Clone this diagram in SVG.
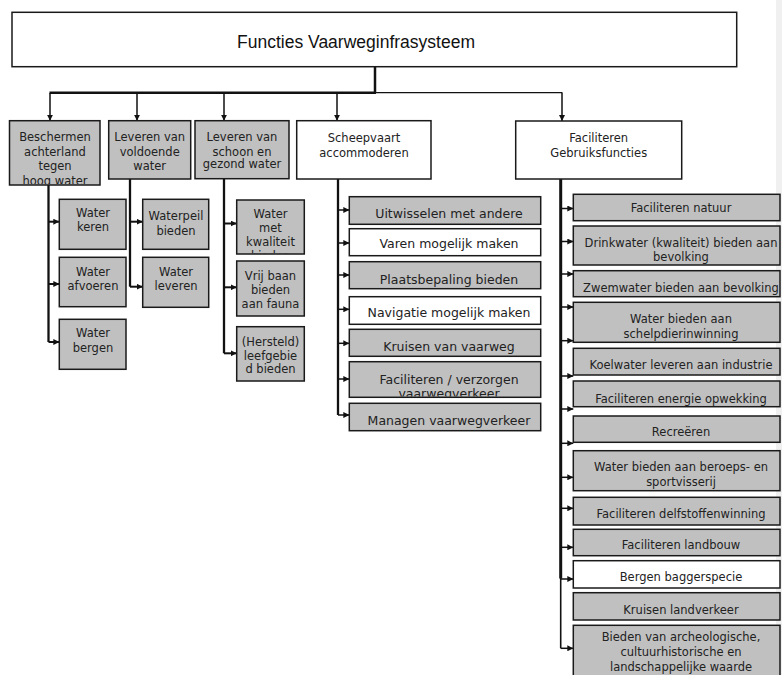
<svg xmlns="http://www.w3.org/2000/svg" width="782" height="675" viewBox="0 0 782 675">
<style>
.g{fill:#c0c0c0;stroke:#1a1a1a;stroke-width:1.5}
.w{fill:#ffffff;stroke:#1a1a1a;stroke-width:1.5}
.t{font-family:"DejaVu Sans",Verdana,sans-serif;font-size:11.5px;fill:#222;text-anchor:middle}
.t2{font-family:"DejaVu Sans",Verdana,sans-serif;font-size:12.5px;fill:#222;text-anchor:middle}
.title{font-family:"Liberation Sans",Arial,sans-serif;font-size:17.5px;fill:#111;text-anchor:middle}
.c{fill:none;stroke:#111;stroke-width:2;marker-end:url(#ah)}
.c1{fill:none;stroke:#111;stroke-width:1.5;marker-end:url(#ah)}
.tr{fill:none;stroke:#111;stroke-width:2.3}
</style>
<defs>
<marker id="ah" markerUnits="userSpaceOnUse" markerWidth="6" markerHeight="6" refX="6" refY="3" orient="auto">
<path d="M0,0 L6,3 L0,6 z" fill="#111"/>
</marker>
<clipPath id="cpB"><rect x="10" y="121" width="89" height="63"/></clipPath>
<clipPath id="cpK"><rect x="237" y="200" width="67" height="53.2"/></clipPath>
<clipPath id="cpF"><rect x="350" y="362" width="190" height="34.6"/></clipPath>
</defs>
<rect x="776" y="0" width="6" height="675" fill="#f0f0f0"/>

<g id="connectors">
<path class="tr" d="M375,66.7 V92.7" style="stroke-width:2.5"/>
<path d="M49.5,92.7 H376" fill="none" stroke="#111" stroke-width="2.5"/>
<path d="M375,92.7 H562.5" fill="none" stroke="#111" stroke-width="1.3"/>
<path class="c1" d="M50,93 V120.7"/>
<path class="c1" d="M137,93 V120.7"/>
<path class="c1" d="M224,93 V120.7"/>
<path class="c1" d="M337,93 V120.7"/>
<path class="c1" d="M562,93 V121"/>

<path class="tr" d="M48.5,185 V342"/>
<path class="c" d="M48.5,221.7 H59.3"/>
<path class="c" d="M48.5,284 H59.3"/>
<path class="c" d="M48.5,342 H59.3"/>

<path class="tr" d="M130,179 V286.7"/>
<path class="c" d="M130,221.7 H142.7"/>
<path class="c" d="M130,286.7 H142.7"/>

<path class="tr" d="M224,179 V353.3"/>
<path class="c" d="M224,223.5 H236.7"/>
<path class="c" d="M224,287.3 H236.7"/>
<path class="c" d="M224,353.3 H236.7"/>

<path class="tr" d="M338,179 V415"/>
<path class="c1" d="M338,210 H349.3"/>
<path class="c1" d="M338,243 H349.3"/>
<path class="c1" d="M338,275 H349.3"/>
<path class="c1" d="M338,309.3 H349.3"/>
<path class="c1" d="M338,343.3 H349.3"/>
<path class="c1" d="M338,379 H349.3"/>
<path class="c1" d="M338,415 H349.3"/>

<path d="M560.7,179 V578.5" fill="none" stroke="#111" stroke-width="3"/>
<path d="M560.7,578 V648.3" fill="none" stroke="#111" stroke-width="1.6"/>
<path class="c1" d="M560.7,208.5 H573.3"/>
<path class="c1" d="M560.7,241.5 H573.3"/>
<path class="c1" d="M560.7,274 H573.3"/>
<path class="c1" d="M560.7,307 H573.3"/>
<path class="c1" d="M560.7,340.7 H573.3"/>
<path class="c1" d="M560.7,376 H573.3"/>
<path class="c1" d="M560.7,409 H573.3"/>
<path class="c1" d="M560.7,443.3 H573.3"/>
<path class="c1" d="M560.7,477.3 H573.3"/>
<path class="c1" d="M560.7,508.3 H573.3"/>
<path class="c1" d="M560.7,547.3 H573.3"/>
<path class="c1" d="M560.7,579 H573.3"/>
<path class="c1" d="M560.7,648.3 H573.3"/>
</g>

<g id="root"><rect class="w" x="12" y="12.3" width="724.7" height="54.4"/><text class="title" x="356" y="48">Functies Vaarweginfrasysteem</text></g>

<g id="beschermen"><rect class="g" x="9.5" y="120.7" width="90.5" height="64.3"/>
<g clip-path="url(#cpB)"><text class="t" x="55" y="141">Beschermen</text><text class="t" x="55" y="155.7">achterland</text><text class="t" x="55" y="169.7">tegen</text><text class="t" x="55" y="184.7">hoog water</text></g></g>
<g id="voldoende"><rect class="g" x="108.7" y="120.7" width="82" height="58.3"/>
<text class="t" x="149.7" y="141.3">Leveren van</text><text class="t" x="149.7" y="155.7">voldoende</text><text class="t" x="149.7" y="170">water</text></g>
<g id="schoon"><rect class="g" x="195" y="120.7" width="94" height="58"/>
<text class="t" x="242" y="141">Leveren van</text><text class="t" x="242" y="155.7">schoon en</text><text class="t" x="242" y="168.3">gezond water</text></g>
<g id="scheepvaart"><rect class="w" x="296.7" y="120.7" width="134.3" height="58.3"/>
<text class="t" x="364" y="141.7">Scheepvaart</text><text class="t" x="364" y="156.7">accommoderen</text></g>
<g id="gebruiksfuncties"><rect class="w" x="515.7" y="121" width="166" height="58"/>
<text class="t" x="598.7" y="141.7">Faciliteren</text><text class="t" x="598.7" y="157.3">Gebruiksfuncties</text></g>

<g id="water-keren"><rect class="g" x="59.3" y="199.3" width="66.7" height="50"/><text class="t" x="93" y="217.3">Water</text><text class="t" x="93" y="231.3">keren</text></g>
<g id="water-afvoeren"><rect class="g" x="59.3" y="257.3" width="66.7" height="49.4"/><text class="t" x="93" y="276.3">Water</text><text class="t" x="93" y="289.7">afvoeren</text></g>
<g id="water-bergen"><rect class="g" x="59.3" y="319.3" width="66.7" height="50"/><text class="t" x="93" y="337.3">Water</text><text class="t" x="93" y="351.7">bergen</text></g>

<g id="waterpeil"><rect class="g" x="142.7" y="199.3" width="66" height="50"/><text class="t" x="176" y="220">Waterpeil</text><text class="t" x="176" y="234.7">bieden</text></g>
<g id="water-leveren"><rect class="g" x="142.7" y="257.3" width="66" height="50"/><text class="t" x="176" y="276.3">Water</text><text class="t" x="176" y="289.7">leveren</text></g>

<g id="kwaliteit"><rect class="g" x="236.7" y="200" width="67.6" height="54"/>
<g clip-path="url(#cpK)"><text class="t" x="270.5" y="218">Water</text><text class="t" x="270.5" y="231.7">met</text><text class="t" x="270.5" y="246">kwaliteit</text><text class="t" x="270.5" y="260">bieden</text></g></g>
<g id="fauna"><rect class="g" x="236.7" y="261" width="67.6" height="55"/><text class="t" x="270.5" y="279.7">Vrij baan</text><text class="t" x="270.5" y="294">bieden</text><text class="t" x="270.5" y="308.3">aan fauna</text></g>
<g id="leefgebied"><rect class="g" x="236.7" y="326.7" width="67.6" height="54.3"/><text class="t" x="270.5" y="346.3">(Hersteld)</text><text class="t" x="270.5" y="359.7">leefgebie</text><text class="t" x="270.5" y="373.3">d bieden</text></g>

<g id="uitwisselen"><rect class="g" x="349.3" y="196.7" width="191.4" height="27.6"/><text class="t2" x="449" y="217.5">Uitwisselen met andere</text></g>
<g id="varen"><rect class="w" x="349.3" y="228.7" width="191.4" height="27"/><text class="t2" x="449" y="247.8">Varen mogelijk maken</text></g>
<g id="plaatsbepaling"><rect class="g" x="349.3" y="261.7" width="191.4" height="27"/><text class="t2" x="449" y="283.5">Plaatsbepaling bieden</text></g>
<g id="navigatie"><rect class="w" x="349.3" y="296.7" width="191.4" height="27.6"/><text class="t2" x="449" y="316.8">Navigatie mogelijk maken</text></g>
<g id="kruisen-vaarweg"><rect class="g" x="349.3" y="329.3" width="191.4" height="27"/><text class="t2" x="449" y="350.5">Kruisen van vaarweg</text></g>
<g id="verzorgen"><rect class="g" x="349.3" y="361.7" width="191.4" height="35.6"/>
<g clip-path="url(#cpF)"><text class="t2" x="449" y="383.5">Faciliteren / verzorgen</text><text class="t2" x="449" y="397.8">vaarwegverkeer</text></g></g>
<g id="managen"><rect class="g" x="349.3" y="403.3" width="191.4" height="27.4"/><text class="t2" x="449" y="425.2">Managen vaarwegverkeer</text></g>

<g id="natuur"><rect class="g" x="573.3" y="194.3" width="206.7" height="26.4"/><text class="t" x="681" y="212.3">Faciliteren natuur</text></g>
<g id="drinkwater"><rect class="g" x="573.3" y="226" width="206.7" height="39"/><text class="t" x="681" y="246.7">Drinkwater (kwaliteit) bieden aan</text><text class="t" x="681" y="260.7">bevolking</text></g>
<g id="zwemwater"><rect class="g" x="573.3" y="270.7" width="206.7" height="26"/><text class="t" x="681" y="291.7">Zwemwater bieden aan bevolking</text></g>
<g id="schelpdier"><rect class="g" x="573.3" y="302.3" width="206.7" height="40"/><text class="t" x="681" y="323">Water bieden aan</text><text class="t" x="681" y="338.3">schelpdierinwinning</text></g>
<g id="koelwater"><rect class="g" x="573.3" y="348.3" width="206.7" height="26.7"/><text class="t" x="681" y="369">Koelwater leveren aan industrie</text></g>
<g id="energie"><rect class="g" x="573.3" y="381" width="206.7" height="25.7"/><text class="t" x="681" y="403.3">Faciliteren energie opwekking</text></g>
<g id="recreeren"><rect class="g" x="573.3" y="416" width="206.7" height="26.3"/><text class="t" x="681" y="436.3">Recreëren</text></g>
<g id="visserij"><rect class="g" x="573.3" y="450.7" width="206.7" height="40"/><text class="t" x="681" y="471.3">Water bieden aan beroeps- en</text><text class="t" x="681" y="486.3">sportvisserij</text></g>
<g id="delfstoffen"><rect class="g" x="573.3" y="497.3" width="206.7" height="27.7"/><text class="t" x="681" y="518">Faciliteren delfstoffenwinning</text></g>
<g id="landbouw"><rect class="g" x="573.3" y="529.3" width="206.7" height="26.4"/><text class="t" x="681" y="549">Faciliteren landbouw</text></g>
<g id="baggerspecie"><rect class="w" x="573.3" y="560.7" width="206.7" height="27.3"/><text class="t" x="681" y="580.7">Bergen baggerspecie</text></g>
<g id="landverkeer"><rect class="g" x="573.3" y="592.7" width="206.7" height="27.3"/><text class="t" x="681" y="614">Kruisen landverkeer</text></g>
<g id="archeologie"><rect class="g" x="573.3" y="625.3" width="206.7" height="60"/><text class="t" x="681" y="640.7">Bieden van archeologische,</text><text class="t" x="681" y="655.7">cultuurhistorische en</text><text class="t" x="681" y="670.7">landschappelijke waarde</text></g>
</svg>
